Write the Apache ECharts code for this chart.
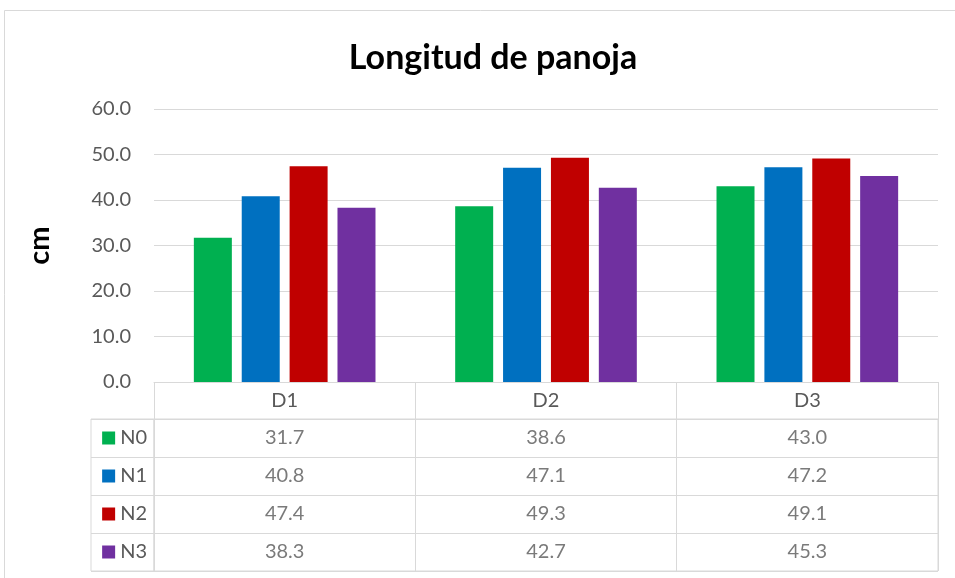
<!DOCTYPE html>
<html><head><meta charset="utf-8">
<script src="https://cdn.jsdelivr.net/npm/echarts@6/dist/echarts.min.js"></script>
<style>html,body{margin:0;padding:0;background:#fff}#c{width:955px;height:578px}</style>
</head><body><div id="c"></div>
<script>
const categories = ['D1', 'D2', 'D3'];
const seriesNames = ['N0', 'N1', 'N2', 'N3'];
const N0 = [31.7, 38.6, 43.0];
const N1 = [40.8, 47.1, 47.2];
const N2 = [47.4, 49.3, 49.1];
const N3 = [38.3, 42.7, 45.3];
const yTicks = [0, 10, 20, 30, 40, 50, 60];
const colors = ['#00b050', '#0070c0', '#c00000', '#7030a0'];
const values = [N0, N1, N2, N3];
const FONT = 'Lato, "Open Sans", sans-serif';
const GRID = '#d9d9d9';
const TXT = '#595959';
const FS = 20;

const rich = { t: { fontSize: FS, color: TXT, fontFamily: FONT, padding: [0, 0, 0, 5] } };
seriesNames.forEach((n, i) => { rich['m' + i] = { width: 13, height: 13, backgroundColor: colors[i] }; });

const barSeries = seriesNames.map((n, i) => ({
  name: n, type: 'bar', xAxisIndex: 0, yAxisIndex: 0,
  data: values[i], barWidth: 38, barGap: '26%',
  itemStyle: { color: colors[i] }
}));
const tableSeries = seriesNames.map((n, i) => ({
  name: n + '_t', type: 'scatter', xAxisIndex: 1, yAxisIndex: 1,
  symbolSize: 1, itemStyle: { color: 'rgba(0,0,0,0)' },
  data: categories.map((c, j) => [c, n, values[i][j]]),
  label: { show: true, position: 'inside', fontSize: FS, color: TXT, fontFamily: FONT,
    formatter: p => p.value[2].toFixed(1) },
  silent: true
}));

const chart = echarts.init(document.getElementById('c'), null, { renderer: 'canvas' });
chart.setOption({
  animation: false,
  backgroundColor: '#fff',
  textStyle: { fontFamily: FONT },
  title: { text: 'Longitud de panoja', left: 488, textAlign: 'center', top: 36,
    textStyle: { fontSize: 34, fontWeight: 'bold', color: '#000', fontFamily: FONT } },
  graphic: [{ type: 'rect', shape: { x: 4.5, y: 10.5, width: 1200, height: 1200 },
    style: { fill: 'none', stroke: GRID, lineWidth: 1 }, silent: true, z: -1 }],
  grid: [
    { left: 154, right: 17, top: 109, bottom: 196 },
    { left: 154, right: 17, top: 419, height: 152, show: true, borderColor: GRID, borderWidth: 1 },
    { left: 91, width: 63, top: 419, height: 152, show: true, borderColor: GRID, borderWidth: 1 }
  ],
  xAxis: [
    { type: 'category', gridIndex: 0, data: categories,
      axisLine: { lineStyle: { color: GRID } },
      axisTick: { show: true, length: 37, lineStyle: { color: GRID } },
      axisLabel: { fontSize: FS, color: TXT, margin: 9, fontFamily: FONT } },
    { type: 'category', gridIndex: 1, data: categories,
      axisLine: { show: false }, axisTick: { show: false }, axisLabel: { show: false },
      splitLine: { show: true, lineStyle: { color: GRID } } },
    { type: 'value', gridIndex: 2, show: false }
  ],
  yAxis: [
    { type: 'value', gridIndex: 0, min: yTicks[0], max: yTicks[yTicks.length - 1], interval: 10,
      axisLabel: { fontSize: FS, color: TXT, margin: 23, fontFamily: FONT, formatter: v => v.toFixed(1) },
      splitLine: { lineStyle: { color: GRID } },
      axisLine: { show: false }, axisTick: { show: false },
      name: 'cm', nameLocation: 'middle', nameRotate: 90, nameGap: 100,
      nameTextStyle: { fontSize: 29, fontWeight: 'bold', color: '#000', fontFamily: FONT } },
    { type: 'category', gridIndex: 1, data: seriesNames, inverse: true,
      axisLine: { show: false }, axisTick: { show: false },
      splitLine: { show: true, lineStyle: { color: GRID } },
      axisLabel: { margin: 7, rich: rich,
        formatter: (v) => '{m' + seriesNames.indexOf(v) + '|}{t|' + v + '}' } },
    { type: 'category', gridIndex: 2, data: seriesNames, inverse: true,
      axisLine: { show: false }, axisTick: { show: false }, axisLabel: { show: false },
      splitLine: { show: true, lineStyle: { color: GRID } } }
  ],
  series: barSeries.concat(tableSeries)
});
</script></body></html>
